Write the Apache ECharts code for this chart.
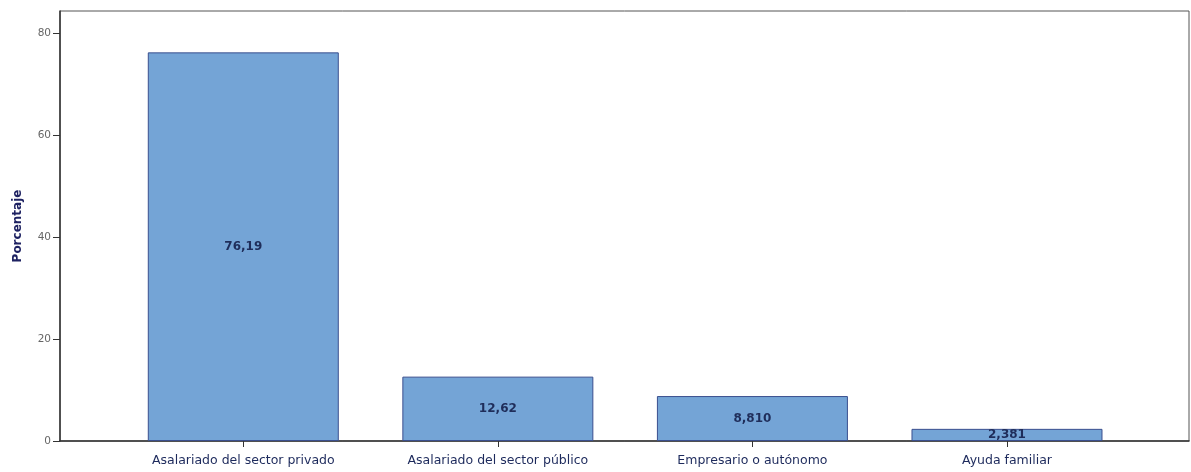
<!DOCTYPE html>
<html>
<head>
<meta charset="utf-8">
<script src="https://cdn.jsdelivr.net/npm/echarts@6/dist/echarts.min.js"></script>
<style>html,body{margin:0;padding:0;background:#fff}#c{width:1191px;height:472px}</style>
</head>
<body>
<div id="c"></div>
<script>
const categories = ['Asalariado del sector privado', 'Asalariado del sector público', 'Empresario o autónomo', 'Ayuda familiar'];
const values = [76.19, 12.62, 8.81, 2.381];
const valueLabels = ['76,19', '12,62', '8,810', '2,381'];
const yTicks = [0, 20, 40, 60, 80];

const chart = echarts.init(document.getElementById('c'));
const idx = categories.map((_, i) => i);
chart.setOption({
  animation: false,
  backgroundColor: '#fff',
  grid: { left: 60, right: 2, top: 11, bottom: 31, outerBoundsMode: 'none', containLabel: false, show: true, borderColor: '#555', borderWidth: 1, backgroundColor: 'transparent' },
  xAxis: {
    type: 'value', min: -0.72, max: 3.715,
    splitLine: { show: false },
    axisLine: { show: true, onZero: false, lineStyle: { color: '#333', width: 1.5 } },
    axisTick: { show: true, customValues: idx, length: 6, inside: false, lineStyle: { color: '#333' } },
    axisLabel: { customValues: idx, formatter: v => categories[Math.round(v)] || '', color: '#1d2a5c', fontFamily: 'DejaVu Sans', fontSize: 12.5, margin: 13 }
  },
  yAxis: {
    type: 'value', min: 0, max: 84.3,
    name: 'Porcentaje', nameLocation: 'middle', nameGap: 36, nameRotate: 90,
    nameTextStyle: { color: '#1e2262', fontWeight: 'bold', fontFamily: 'DejaVu Sans', fontSize: 12 },
    splitLine: { show: false },
    axisLine: { show: true, onZero: false, lineStyle: { color: '#333', width: 1.5 } },
    axisTick: { show: true, customValues: yTicks, length: 7, lineStyle: { color: '#333' } },
    axisLabel: { customValues: yTicks, color: '#666', fontFamily: 'DejaVu Sans', fontSize: 10.5, margin: 9 }
  },
  series: [{
    type: 'bar',
    data: values.map((v, i) => [i, v]),
    barWidth: 191,
    itemStyle: { color: '#74a4d6', borderColor: '#3a4f8e', borderWidth: 1 },
    label: { show: true, position: 'inside', formatter: p => valueLabels[p.dataIndex], color: '#1f2d5a', fontWeight: 'bold', fontFamily: 'DejaVu Sans', fontSize: 12 }
  }]
});
</script>
</body>
</html>
